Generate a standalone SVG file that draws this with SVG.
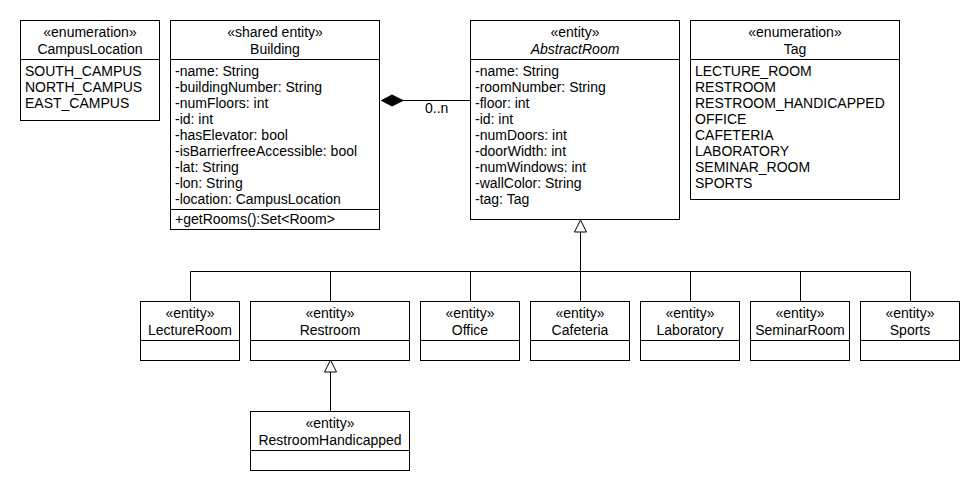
<svg xmlns="http://www.w3.org/2000/svg" width="980" height="490" viewBox="0 0 980 490">
<style>
.box{fill:#fff;stroke:#000;stroke-width:1}
.ln{stroke:#000;stroke-width:1;fill:none}
.tri{fill:#fff;stroke:#000;stroke-width:1}
text{font-family:"Liberation Sans",Arial,sans-serif;font-size:14px;fill:#000}
.c{text-anchor:middle}
.i{font-style:italic}
</style>
<rect width="980" height="490" fill="#fff"/>
<g id="connectors">
  <path class="ln" d="M403,100.5H470"/>
  <path d="M381.5,100.5L392,95L403,100.5L392,106Z" fill="#000" stroke="#000"/>
  <text x="425" y="113">0..n</text>
  <path class="ln" d="M580.5,232V301M190.5,301V271.5H910.5V301M330.5,271.5V301M470.5,271.5V301M690.5,271.5V301M800.5,271.5V301"/>
  <path class="tri" d="M580.5,220L574.5,232H586.5Z"/>
  <path class="ln" d="M330.5,372V411"/>
  <path class="tri" d="M330.5,360L324.5,372H336.5Z"/>
</g>
<g id="CampusLocation">
  <rect class="box" x="20.5" y="20.5" width="139" height="100"/>
  <path class="ln" d="M20.5,59.5H159.5"/>
  <text class="c" x="90" y="37">«enumeration»</text>
  <text class="c" x="90" y="54">CampusLocation</text>
  <text x="25" y="76">SOUTH_CAMPUS</text>
  <text x="25" y="92">NORTH_CAMPUS</text>
  <text x="25" y="108">EAST_CAMPUS</text>
</g>
<g id="Building">
  <rect class="box" x="170.5" y="20.5" width="209" height="209"/>
  <path class="ln" d="M170.5,59.5H379.5M170.5,209.5H379.5"/>
  <text class="c" x="275" y="37">«shared entity»</text>
  <text class="c" x="275" y="54">Building</text>
  <text x="175" y="76">-name: String</text>
  <text x="175" y="92">-buildingNumber: String</text>
  <text x="175" y="108">-numFloors: int</text>
  <text x="175" y="124">-id: int</text>
  <text x="175" y="140">-hasElevator: bool</text>
  <text x="175" y="156">-isBarrierfreeAccessible: bool</text>
  <text x="175" y="172">-lat: String</text>
  <text x="175" y="188">-lon: String</text>
  <text x="175" y="204">-location: CampusLocation</text>
  <text x="175" y="224">+getRooms():Set&lt;Room&gt;</text>
</g>
<g id="AbstractRoom">
  <rect class="box" x="470.5" y="20.5" width="209" height="199"/>
  <path class="ln" d="M470.5,59.5H679.5"/>
  <text class="c" x="575" y="37">«entity»</text>
  <text class="c i" x="575" y="54">AbstractRoom</text>
  <text x="475" y="76">-name: String</text>
  <text x="475" y="92">-roomNumber: String</text>
  <text x="475" y="108">-floor: int</text>
  <text x="475" y="124">-id: int</text>
  <text x="475" y="140">-numDoors: int</text>
  <text x="475" y="156">-doorWidth: int</text>
  <text x="475" y="172">-numWindows: int</text>
  <text x="475" y="188">-wallColor: String</text>
  <text x="475" y="204">-tag: Tag</text>
</g>
<g id="Tag">
  <rect class="box" x="690.5" y="20.5" width="209" height="179"/>
  <path class="ln" d="M690.5,59.5H899.5"/>
  <text class="c" x="795" y="37">«enumeration»</text>
  <text class="c" x="795" y="54">Tag</text>
  <text x="695" y="76">LECTURE_ROOM</text>
  <text x="695" y="92">RESTROOM</text>
  <text x="695" y="108">RESTROOM_HANDICAPPED</text>
  <text x="695" y="124">OFFICE</text>
  <text x="695" y="140">CAFETERIA</text>
  <text x="695" y="156">LABORATORY</text>
  <text x="695" y="172">SEMINAR_ROOM</text>
  <text x="695" y="188">SPORTS</text>
</g>
<g id="LectureRoom">
  <rect class="box" x="140.5" y="301.5" width="99" height="59"/>
  <path class="ln" d="M140.5,340.5H239.5"/>
  <text class="c" x="190" y="318">«entity»</text>
  <text class="c" x="190" y="335">LectureRoom</text>
</g>
<g id="Restroom">
  <rect class="box" x="250.5" y="301.5" width="159" height="59"/>
  <path class="ln" d="M250.5,340.5H409.5"/>
  <text class="c" x="330" y="318">«entity»</text>
  <text class="c" x="330" y="335">Restroom</text>
</g>
<g id="Office">
  <rect class="box" x="420.5" y="301.5" width="99" height="59"/>
  <path class="ln" d="M420.5,340.5H519.5"/>
  <text class="c" x="470" y="318">«entity»</text>
  <text class="c" x="470" y="335">Office</text>
</g>
<g id="Cafeteria">
  <rect class="box" x="530.5" y="301.5" width="99" height="59"/>
  <path class="ln" d="M530.5,340.5H629.5"/>
  <text class="c" x="580" y="318">«entity»</text>
  <text class="c" x="580" y="335">Cafeteria</text>
</g>
<g id="Laboratory">
  <rect class="box" x="640.5" y="301.5" width="99" height="59"/>
  <path class="ln" d="M640.5,340.5H739.5"/>
  <text class="c" x="690" y="318">«entity»</text>
  <text class="c" x="690" y="335">Laboratory</text>
</g>
<g id="SeminarRoom">
  <rect class="box" x="750.5" y="301.5" width="99" height="59"/>
  <path class="ln" d="M750.5,340.5H849.5"/>
  <text class="c" x="800" y="318">«entity»</text>
  <text class="c" x="800" y="335">SeminarRoom</text>
</g>
<g id="Sports">
  <rect class="box" x="860.5" y="301.5" width="99" height="59"/>
  <path class="ln" d="M860.5,340.5H959.5"/>
  <text class="c" x="910" y="318">«entity»</text>
  <text class="c" x="910" y="335">Sports</text>
</g>
<g id="RestroomHandicapped">
  <rect class="box" x="250.5" y="411.5" width="159" height="59"/>
  <path class="ln" d="M250.5,450.5H409.5"/>
  <text class="c" x="330" y="428">«entity»</text>
  <text class="c" x="330" y="445">RestroomHandicapped</text>
</g>
</svg>
